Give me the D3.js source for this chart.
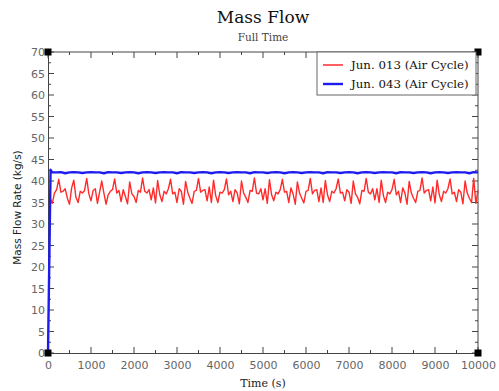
<!DOCTYPE html>
<html>
<head>
<meta charset="utf-8">
<script src="https://cdn.jsdelivr.net/npm/d3@7"></script>
<style>
  body { margin: 0; background: #fff; }
  svg { display: block; }
</style>
</head>
<body>
<svg id="chart" width="499" height="391"></svg>
<script>
// red series: Jun. 013, sampled every 50 s from t = 50 s
const redStart = 50;
const redStep = 50;
const redValues = [
  36.0, 34.8, 37.2, 38.0, 40.4, 37.4, 37.6, 38.2, 36.0, 34.6, 38.4, 40.2, 36.2,
  35.0, 37.6, 37.2, 37.8, 40.6, 37.0, 35.4, 37.8, 38.2, 34.8, 37.4, 40.0, 37.2,
  34.6, 36.8, 37.6, 38.0, 40.5, 37.2, 37.8, 35.2, 38.0, 36.4, 34.7, 39.8, 37.0,
  36.4, 35.0, 37.8, 37.4, 40.7, 37.6, 37.2, 38.0, 35.6, 38.4, 34.9, 40.1, 36.8,
  35.2, 37.6, 37.0, 38.2, 40.4, 37.0, 37.4, 35.0, 38.2, 37.6, 34.6, 39.9, 37.4,
  36.0, 34.8, 37.6, 37.8, 40.6, 37.4, 37.8, 38.0, 35.4, 38.6, 35.0, 40.2, 36.6,
  35.0, 37.4, 37.2, 38.0, 40.5, 36.8, 37.6, 35.2, 38.0, 37.2, 34.7, 40.0, 37.2,
  36.2, 35.0, 37.8, 37.6, 40.7, 37.2, 37.0, 38.2, 35.6, 38.2, 34.8, 40.3, 36.8,
  35.4, 37.4, 37.0, 38.0, 40.4, 37.4, 37.6, 35.0, 38.4, 37.0, 34.6, 39.8, 37.2,
  36.0, 34.9, 37.6, 37.8, 40.6, 37.0, 37.8, 38.0, 35.2, 38.4, 35.0, 40.1, 36.8,
  35.2, 37.6, 37.2, 38.2, 40.5, 37.2, 37.4, 35.4, 38.0, 37.4, 34.8, 40.0, 37.0,
  36.2, 34.7, 37.8, 37.6, 40.6, 37.4, 37.0, 38.2, 35.6, 38.2, 35.0, 40.2, 36.6,
  35.0, 37.4, 37.0, 38.0, 40.4, 36.8, 37.6, 35.0, 38.4, 37.2, 34.6, 39.9, 37.2,
  36.0, 35.0, 37.6, 37.8, 40.7, 37.2, 37.8, 38.0, 35.4, 38.6, 34.9, 40.2, 36.8,
  35.2, 37.6, 37.2, 38.2, 40.5, 37.0, 37.4, 35.2, 38.0, 37.4, 34.7, 40.0, 37.2,
  36.0, 35.0, 40.6, 34.8, 37.8
];

// blue series: Jun. 043, start-up points then every 100 s from t = 100 s
const blueStartTimes = [0, 60];
const blueStartValues = [0, 42.6];
const blueStart = 100;
const blueStep = 100;
const blueValues = [
  42.0, 42.0, 42.05, 41.8, 42.0, 42.05, 42.0, 41.85, 42.0, 42.05,
  42.0, 42.0, 41.8, 42.05, 42.0, 42.0, 41.85, 42.0, 42.05, 42.0,
  41.8, 42.0, 42.05, 42.0, 41.85, 42.0, 42.05, 42.0, 42.0, 41.8,
  42.05, 42.0, 42.0, 41.85, 42.0, 42.05, 42.0, 41.8, 42.0, 42.05,
  42.0, 41.85, 42.0, 42.05, 42.0, 42.0, 41.8, 42.05, 42.0, 42.0,
  41.85, 42.0, 42.05, 42.0, 41.8, 42.0, 42.05, 42.0, 41.85, 42.0,
  42.05, 42.0, 42.0, 41.8, 42.05, 42.0, 42.0, 41.85, 42.0, 42.05,
  42.0, 41.8, 42.0, 42.05, 42.0, 41.85, 42.0, 42.05, 42.0, 42.0,
  41.8, 42.05, 42.0, 42.0, 41.85, 42.0, 42.05, 42.0, 41.8, 42.0,
  42.05, 42.0, 41.85, 42.0, 42.05, 42.0, 42.0, 41.8, 42.05, 42.0
];

const seriesNames = ['Jun. 013 (Air Cycle)', 'Jun. 043 (Air Cycle)'];
const seriesColors = ['#ff2a2a', '#1c1cf0'];

const xTicks = [0, 1000, 2000, 3000, 4000, 5000, 6000, 7000, 8000, 9000, 10000];
const yTicks = [0, 5, 10, 15, 20, 25, 30, 35, 40, 45, 50, 55, 60, 65, 70];

const MARGINS = { top: 52, bottom: 38, left: 48, right: 21 };
const svg = d3.select('#chart');
const width = +svg.attr('width');
const height = +svg.attr('height');
const chartWidth = width - MARGINS.left - MARGINS.right;
const chartHeight = height - MARGINS.top - MARGINS.bottom;

const scaleX = d3.scaleLinear().domain([0, 10000]).range([MARGINS.left, MARGINS.left + chartWidth]);
const scaleY = d3.scaleLinear().domain([0, 70]).range([MARGINS.top + chartHeight, MARGINS.top]);

const redData = redValues.map((v, i) => ({ t: redStart + i * redStep, v }));
const blueData = blueStartTimes.map((t, i) => ({ t, v: blueStartValues[i] }))
  .concat(blueValues.map((v, i) => ({ t: blueStart + i * blueStep, v })));

// titles
svg.append('text').attr('x', 263).attr('y', 23).attr('text-anchor', 'middle')
  .attr('font-family', 'DejaVu Serif').attr('font-size', 17).attr('fill', '#111')
  .text('Mass Flow');
svg.append('text').attr('x', 263).attr('y', 41).attr('text-anchor', 'middle')
  .attr('font-family', 'DejaVu Serif').attr('font-size', 10.5).attr('fill', '#444')
  .text('Full Time');

// axes (ticks point inward)
const axisColor = '#444';
const minorX = d3.range(0, 10001, 500);
const minorY = d3.range(0, 70.1, 2.5);

function styleAxis(g) {
  g.select('.domain').attr('stroke', axisColor);
  g.selectAll('line').attr('stroke', axisColor);
  g.selectAll('text').attr('font-family', 'DejaVu Sans').attr('font-size', 11).attr('fill', '#666');
}

const bottom = MARGINS.top + chartHeight;
const right = MARGINS.left + chartWidth;

// minor + major ticks on all four sides
['bottom', 'top'].forEach(side => {
  const y0 = side === 'bottom' ? bottom : MARGINS.top;
  const dir = side === 'bottom' ? -1 : 1;
  svg.append('g').selectAll('line').data(minorX).join('line')
    .attr('x1', d => scaleX(d)).attr('x2', d => scaleX(d))
    .attr('y1', y0).attr('y2', d => y0 + dir * (d % 1000 === 0 ? 6 : 3))
    .attr('stroke', axisColor);
});
['left', 'right'].forEach(side => {
  const x0 = side === 'left' ? MARGINS.left : right;
  const dir = side === 'left' ? 1 : -1;
  svg.append('g').selectAll('line').data(minorY).join('line')
    .attr('y1', d => scaleY(d)).attr('y2', d => scaleY(d))
    .attr('x1', x0).attr('x2', d => x0 + dir * (d % 5 === 0 ? 6 : 3))
    .attr('stroke', axisColor);
});

const axisX = svg.append('g').attr('transform', `translate(0, ${bottom})`)
  .call(d3.axisBottom(scaleX).tickValues(xTicks).tickSize(0).tickPadding(8).tickFormat(d3.format('d')));
styleAxis(axisX);
const axisY = svg.append('g').attr('transform', `translate(${MARGINS.left}, 0)`)
  .call(d3.axisLeft(scaleY).tickValues(yTicks).tickSize(0).tickPadding(3));
styleAxis(axisY);
svg.append('line').attr('x1', MARGINS.left).attr('x2', right).attr('y1', MARGINS.top).attr('y2', MARGINS.top).attr('stroke', axisColor);
svg.append('line').attr('x1', right).attr('x2', right).attr('y1', MARGINS.top).attr('y2', bottom).attr('stroke', axisColor);

// axis titles
svg.append('text').attr('x', 263).attr('y', 387).attr('text-anchor', 'middle')
  .attr('font-family', 'DejaVu Serif').attr('font-size', 11).attr('fill', '#222')
  .text('Time (s)');
svg.append('text').attr('transform', `translate(21, ${MARGINS.top + chartHeight / 2 + 5}) rotate(-90)`)
  .attr('text-anchor', 'middle')
  .attr('font-family', 'DejaVu Sans').attr('font-size', 10.5).attr('fill', '#222')
  .text('Mass Flow Rate (kg/s)');

// lines
const line = d3.line().x(d => scaleX(d.t)).y(d => scaleY(d.v));
svg.append('path').datum(redData).attr('d', line)
  .attr('fill', 'none').attr('stroke', seriesColors[0]).attr('stroke-width', 1.4).attr('stroke-linejoin', 'round');
svg.append('path').datum(blueData).attr('d', line)
  .attr('fill', 'none').attr('stroke', seriesColors[1]).attr('stroke-width', 2.4).attr('stroke-linejoin', 'round');

// corner markers
[[0, 0], [0, 70], [10000, 0], [10000, 70]].forEach(([t, v]) => {
  svg.append('rect').attr('x', scaleX(t) - 3.5).attr('y', scaleY(v) - 3.5)
    .attr('width', 7).attr('height', 7).attr('fill', '#000');
});

// legend
const legend = svg.append('g').attr('transform', `translate(317, ${MARGINS.top})`);
legend.append('rect').attr('width', 159).attr('height', 43)
  .attr('fill', '#fff').attr('stroke', '#666').attr('stroke-width', 1);
seriesNames.forEach((name, i) => {
  const y = 13 + i * 19;
  legend.append('line').attr('x1', 6).attr('x2', 26).attr('y1', y).attr('y2', y)
    .attr('stroke', seriesColors[i]).attr('stroke-width', i === 0 ? 1.5 : 2.4);
  legend.append('text').attr('x', 34).attr('y', y + 4)
    .attr('font-family', 'DejaVu Serif').attr('font-size', 11.8).attr('fill', '#111')
    .text(name);
});
</script>
</body>
</html>
